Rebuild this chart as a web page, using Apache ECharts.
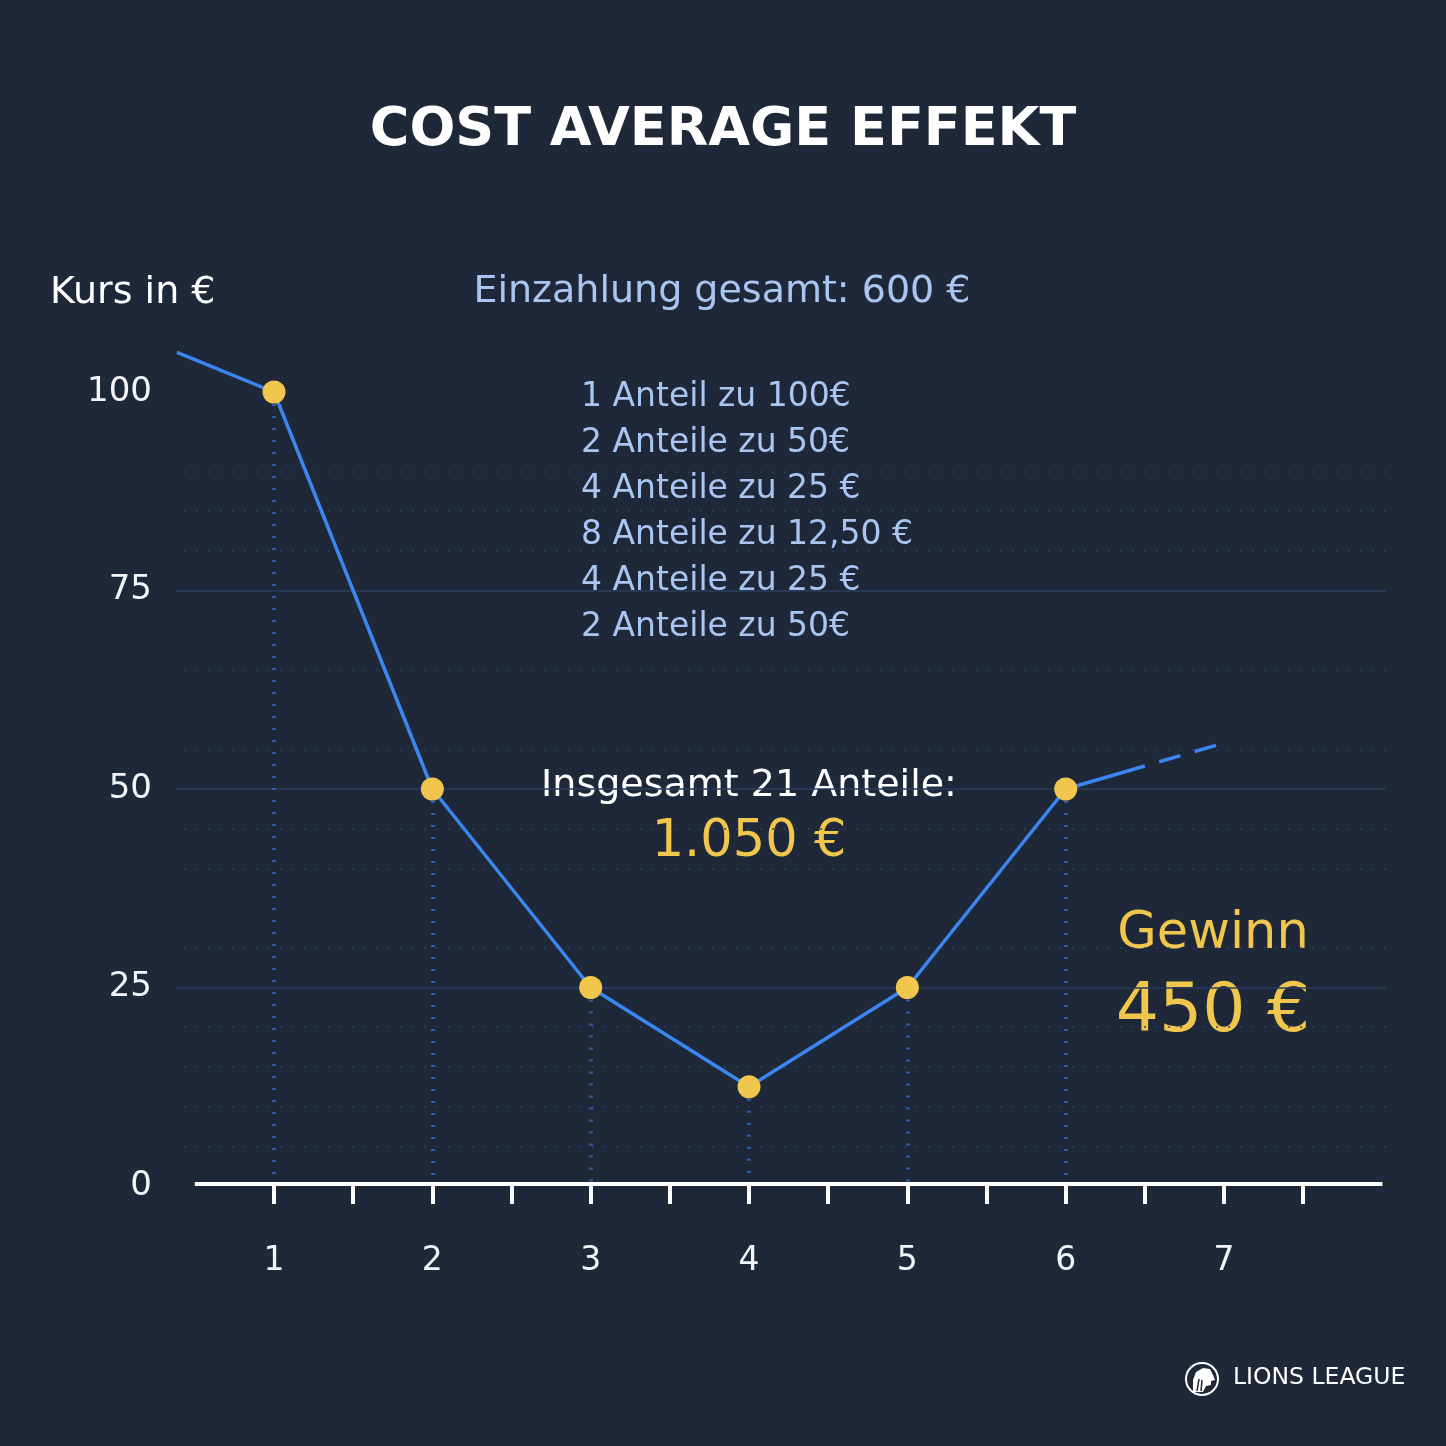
<!DOCTYPE html>
<html>
<head>
<meta charset="utf-8">
<script src="https://cdn.jsdelivr.net/npm/echarts@6/dist/echarts.min.js"></script>
<style>
html,body{margin:0;padding:0;background:#1f2838;}
#c{width:1446px;height:1446px;}
</style>
</head>
<body>
<div id="c"></div>
<script>
// ---- data ----
const periods = [1, 2, 3, 4, 5, 6];
const prices = [100, 50, 25, 12.5, 25, 50];
const leadIn = [0.387, 105];            // line entering from the left edge
const trendSolid = [6.5, 52.9];         // solid continuation after period 6
const trendDashEnd = [7, 55.8];         // dashed projection
const xLabelValues = [1, 2, 3, 4, 5, 6, 7];
const xTickValues = [1, 1.5, 2, 2.5, 3, 3.5, 4, 4.5, 5, 5.5, 6, 6.5, 7, 7.5];
const yLabelValues = [0, 25, 50, 75, 100];
const solidLevels = [25, 50, 75];
const dottedLevels = [5, 10, 15, 20, 30, 40, 45, 55, 65, 80, 85, 90];
const titleText = 'COST AVERAGE EFFEKT';
const yAxisTitle = 'Kurs in €';
const depositText = 'Einzahlung gesamt: 600 €';
const purchaseLines = [
  '1 Anteil zu 100€',
  '2 Anteile zu 50€',
  '4 Anteile zu 25 €',
  '8 Anteile zu 12,50 €',
  '4 Anteile zu 25 €',
  '2 Anteile zu 50€'
];
const totalSharesText = 'Insgesamt 21 Anteile:';
const totalValueText = '1.050 €';
const profitLabel = 'Gewinn';
const profitValue = '450 €';
const brandText = 'LIONS LEAGUE';

// ---- styles ----
const BG = '#1f2838';
const BLUE = '#3b86f0';
const YELLOW = '#f0c64c';
const LIGHT = '#a9c6f2';
const FONT = '"DejaVu Sans", sans-serif';

const chart = echarts.init(document.getElementById('c'), null, {renderer: 'canvas'});

const mainData = [leadIn].concat(periods.map((p, i) => [p, prices[i]])).concat([trendSolid]);

const gridLines = [];
solidLevels.forEach(v => gridLines.push([
  {coord: [0.381, v], lineStyle: {color: '#2a3d5e', width: 1.5, type: 'solid'}},
  {coord: [8.023, v]}
]));
dottedLevels.forEach(v => gridLines.push([
  {coord: [0.432, v], lineStyle: {color: '#29426c', width: 1.5, type: [2, 10]}},
  {coord: [8.023, v]}
]));
const dropLines = periods.map((p, i) => [
  {coord: [p, prices[i]], lineStyle: {color: '#2c5cab', width: 4, type: [2, 10]}},
  {coord: [p, 0]}
]);
const axisLineMark = [[
  {coord: [0.5, 0.3], lineStyle: {color: '#ffffff', width: 4, type: 'solid'}},
  {coord: [8, 0.3]}
]];

const listTexts = purchaseLines.map((t, i) => ({
  type: 'text', x: 581, y: 397 + 46 * i,
  style: {text: t, fill: LIGHT, font: '400 33px ' + FONT, textAlign: 'left', textVerticalAlign: 'middle'}
}));

chart.setOption({
  backgroundColor: BG,
  animation: false,
  grid: {left: 176, right: 60, top: 1186 - 106 * 7.94, bottom: 1446 - 1186},
  xAxis: {
    type: 'value', min: 0.381, max: 8.023,
    axisLine: {show: false},
    splitLine: {show: false},
    axisTick: {show: true, customValues: xTickValues, length: 18, lineStyle: {color: '#ffffff', width: 4}},
    axisLabel: {customValues: xLabelValues, color: '#f2f4f8', fontSize: 33, fontFamily: FONT, margin: 59}
  },
  yAxis: {
    type: 'value', min: 0, max: 106,
    axisLine: {show: false}, axisTick: {show: false}, splitLine: {show: false},
    axisLabel: {customValues: yLabelValues, color: '#f2f4f8', fontSize: 34, fontFamily: FONT, margin: 24}
  },
  series: [
    {
      type: 'line', data: [], z: 1, clip: false, silent: true,
      markLine: {silent: true, symbol: 'none', label: {show: false}, animation: false,
        data: gridLines.concat(dropLines)}
    },
    {
      type: 'line', data: [], z: 2, clip: false, silent: true,
      markLine: {silent: true, symbol: 'none', label: {show: false}, animation: false, data: axisLineMark}
    },
    {
      type: 'line', data: [trendSolid, trendDashEnd], z: 5, clip: false, showSymbol: false, symbol: 'none',
      lineStyle: {color: BLUE, width: 3.5, type: [22, 15], dashOffset: 22}
    },
    {
      type: 'line', z: 6, clip: false,
      data: mainData.map(v => ({value: v, symbol: periods.indexOf(v[0]) >= 0 ? 'circle' : 'none'})),
      symbol: 'circle', symbolSize: 23, showSymbol: true, showAllSymbol: true,
      itemStyle: {color: YELLOW, borderWidth: 0},
      lineStyle: {color: BLUE, width: 3.5}
    }
  ],
  graphic: [
    {type: 'text', x: 723, y: 131, style: {text: titleText, fill: '#ffffff', font: 'bold 54px "DejaVu Sans", sans-serif', textAlign: 'center', textVerticalAlign: 'middle'}},
    {type: 'text', x: 50, y: 293, style: {text: yAxisTitle, fill: '#ffffff', font: '400 38px ' + FONT, textAlign: 'left', textVerticalAlign: 'middle'}},
    {type: 'text', x: 722, y: 292, style: {text: depositText, fill: LIGHT, font: '400 38px ' + FONT, textAlign: 'center', textVerticalAlign: 'middle'}},
    {type: 'text', x: 749, y: 786, style: {text: totalSharesText, fill: '#ffffff', font: '400 38px ' + FONT, textAlign: 'center', textVerticalAlign: 'middle'}},
    {type: 'text', x: 749, y: 843, style: {text: totalValueText, fill: YELLOW, font: '400 51px ' + FONT, textAlign: 'center', textVerticalAlign: 'middle'}},
    {type: 'text', x: 1213, y: 935, style: {text: profitLabel, fill: YELLOW, font: '400 51px ' + FONT, textAlign: 'center', textVerticalAlign: 'middle'}},
    {type: 'text', x: 1213, y: 1013, style: {text: profitValue, fill: YELLOW, font: '400 68px ' + FONT, textAlign: 'center', textVerticalAlign: 'middle'}},
    {type: 'circle', shape: {cx: 1202, cy: 1379, r: 16}, style: {fill: 'none', stroke: '#ffffff', lineWidth: 2}},
    {type: 'polygon', shape: {points: [[1193, 1392], [1193, 1380], [1196, 1372], [1203, 1368], [1210, 1369], [1213, 1375], [1215, 1380], [1211, 1381], [1211, 1385], [1206, 1386], [1203, 1392]]}, style: {fill: '#ffffff'}},
    {type: 'polyline', shape: {points: [[1197, 1391], [1199, 1379]]}, style: {stroke: BG, lineWidth: 1.5, fill: 'none'}},
    {type: 'polyline', shape: {points: [[1201, 1391], [1202, 1380]]}, style: {stroke: BG, lineWidth: 1.5, fill: 'none'}},
    {type: 'text', x: 1233, y: 1378, style: {text: brandText, fill: '#ffffff', font: '400 23.5px ' + FONT, textAlign: 'left', textVerticalAlign: 'middle'}}
  ].concat(listTexts)
});
</script>
</body>
</html>
